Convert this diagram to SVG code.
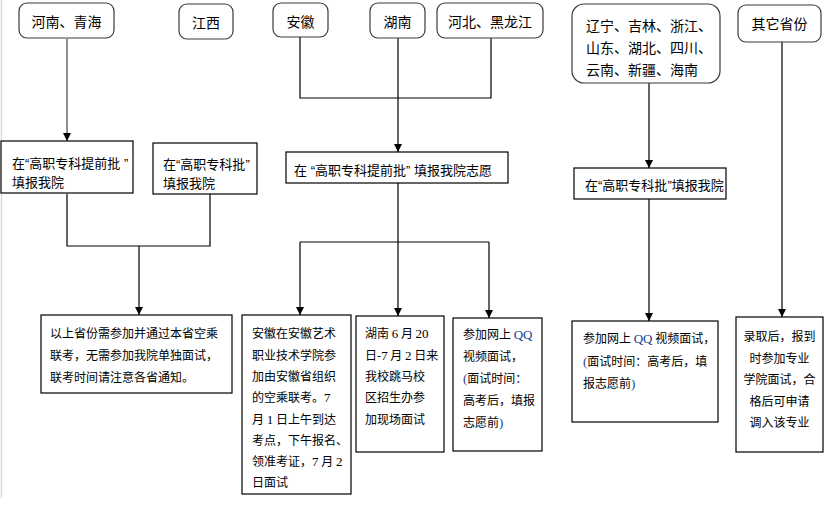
<svg xmlns="http://www.w3.org/2000/svg" width="828" height="505" viewBox="0 0 828 505">
<style>
  text { font-family: "Noto Sans CJK SC", "Noto Sans", sans-serif; fill: #000; }
  .top { font-size: 14px; }
  .box { font-size: 13px; }
  .sm { font-size: 12px; }
  .p { font-family: "Liberation Sans", sans-serif; }
  .n { font-family: "Liberation Serif", serif; font-size: 13px; }
  .q { font-family: "Liberation Serif", serif; font-size: 13px; fill: #1a3d8f; }
  .rnode { fill: #fff; stroke: #3a3a3a; stroke-width: 1.2; }
  .snode { fill: #fff; stroke: #000; stroke-width: 1.2; }
  .c { fill: none; stroke: #000; stroke-width: 1.2; }
  .cg { fill: none; stroke: #6a6a6a; stroke-width: 1.5; }
  .arr { marker-end: url(#ah); }
</style>
<defs>
  <marker id="ah" viewBox="0 0 8 8" refX="8" refY="4" markerWidth="8" markerHeight="8" markerUnits="userSpaceOnUse" orient="auto">
    <path d="M0,0 L8,4 L0,8 z" fill="#000"/>
  </marker>
</defs>
<rect width="828" height="505" fill="#fff"/>
<line x1="1.5" y1="0" x2="1.5" y2="498" stroke="#dcdcdc" stroke-width="1.5"/>

<g id="connectors">
  <path class="cg arr" d="M67,39 V141"/>
  <path class="c" d="M67,194 V246 H210 V194"/>
  <path class="c arr" d="M139,246 V315"/>
  <path class="c" d="M300,37 V98 H491 V38"/>
  <path class="c arr" d="M398,38 V152"/>
  <path class="c" d="M398,183 V242"/>
  <path class="c" d="M300,242 H489"/>
  <path class="c arr" d="M300,242 V315"/>
  <path class="c arr" d="M398,242 V316"/>
  <path class="c arr" d="M489,242 V318"/>
  <path class="c arr" d="M649,83 V168"/>
  <path class="c arr" d="M649,199 V321"/>
  <path class="c arr" d="M782,42 V317"/>
</g>

<g id="n-henan">
  <rect class="rnode" x="19" y="3" width="95" height="35" rx="8"/>
  <text class="top" x="66.5" y="27" text-anchor="middle">河南、青海</text>
</g>
<g id="n-jiangxi">
  <rect class="rnode" x="179" y="4" width="54" height="35" rx="8"/>
  <text class="top" x="206" y="28" text-anchor="middle">江西</text>
</g>
<g id="n-anhui">
  <rect class="rnode" x="273" y="3" width="55" height="34" rx="8"/>
  <text class="top" x="300.5" y="27" text-anchor="middle">安徽</text>
</g>
<g id="n-hunan">
  <rect class="rnode" x="370" y="3" width="55" height="35" rx="8"/>
  <text class="top" x="397.5" y="27" text-anchor="middle">湖南</text>
</g>
<g id="n-hebei">
  <rect class="rnode" x="437" y="3" width="106" height="35" rx="8"/>
  <text class="top" x="490" y="27" text-anchor="middle">河北、黑龙江</text>
</g>
<g id="n-liaoning">
  <rect class="rnode" x="572" y="4" width="148" height="79" rx="12"/>
  <text class="top" x="586" y="31">辽宁、吉林、浙江、</text>
  <text class="top" x="586" y="53">山东、湖北、四川、</text>
  <text class="top" x="586" y="75">云南、新疆、海南</text>
</g>
<g id="n-other">
  <rect class="rnode" x="738" y="5" width="83" height="37" rx="8"/>
  <text class="top" x="779.5" y="29" text-anchor="middle">其它省份</text>
</g>

<g id="n-tiqian1">
  <rect class="snode" x="1" y="141" width="132" height="52"/>
  <text class="box" x="12" y="168">在<tspan class="p">“</tspan>高职专科提前批<tspan class="p"> ”</tspan></text>
  <text class="box" x="12" y="187">填报我院</text>
</g>
<g id="n-zhuanke1">
  <rect class="snode" x="153" y="143" width="104" height="51"/>
  <text class="box" x="163" y="169">在<tspan class="p">“</tspan>高职专科批<tspan class="p">”</tspan></text>
  <text class="box" x="163" y="188">填报我院</text>
</g>
<g id="n-tiqian2">
  <rect class="snode" x="286" y="152" width="222" height="31"/>
  <text class="box" x="294" y="175">在<tspan class="p"> “</tspan>高职专科提前批<tspan class="p">” </tspan>填报我院志愿</text>
</g>
<g id="n-zhuanke2">
  <rect class="snode" x="574" y="168" width="152" height="31"/>
  <text class="box" x="585" y="190">在<tspan class="p">“</tspan>高职专科批<tspan class="p">”</tspan>填报我院</text>
</g>

<g id="n-lianka">
  <rect class="snode" x="41" y="315" width="191" height="78"/>
  <text class="sm" x="50" y="338">以上省份需参加并通过本省空乘</text>
  <text class="sm" x="50" y="360">联考，无需参加我院单独面试，</text>
  <text class="sm" x="50" y="382">联考时间请注意各省通知。</text>
</g>
<g id="n-anhui-detail">
  <rect class="snode" x="242" y="315" width="109" height="179"/>
  <text class="sm" x="252" y="338">安徽在安徽艺术</text>
  <text class="sm" x="252" y="359.5">职业技术学院参</text>
  <text class="sm" x="252" y="381">加由安徽省组织</text>
  <text class="sm" x="252" y="402">的空乘联考。<tspan class="n">7</tspan></text>
  <text class="sm" x="252" y="423.5">月 <tspan class="n">1</tspan> 日上午到达</text>
  <text class="sm" x="252" y="445">考点，下午报名、</text>
  <text class="sm" x="252" y="466">领准考证，<tspan class="n">7</tspan> 月 <tspan class="n">2</tspan></text>
  <text class="sm" x="252" y="487">日面试</text>
</g>
<g id="n-hunan-detail">
  <rect class="snode" x="356" y="316" width="88" height="136"/>
  <text class="sm" x="365" y="338">湖南 <tspan class="n">6</tspan> 月 <tspan class="n">20</tspan></text>
  <text class="sm" x="365" y="359.5">日-<tspan class="n">7</tspan> 月 <tspan class="n">2</tspan> 日来</text>
  <text class="sm" x="365" y="381">我校跳马校</text>
  <text class="sm" x="365" y="402">区招生办参</text>
  <text class="sm" x="365" y="423.5">加现场面试</text>
</g>
<g id="n-qq1">
  <rect class="snode" x="453" y="318" width="89" height="133"/>
  <text class="sm" x="463" y="339">参加网上 <tspan class="q">QQ</tspan></text>
  <text class="sm" x="463" y="361">视频面试，</text>
  <text class="sm" x="463" y="383"><tspan class="q">(</tspan>面试时间：</text>
  <text class="sm" x="463" y="405">高考后，填报</text>
  <text class="sm" x="463" y="427">志愿前<tspan class="q">)</tspan></text>
</g>
<g id="n-qq2">
  <rect class="snode" x="572" y="321" width="146" height="101"/>
  <text class="sm" x="583" y="343">参加网上 <tspan class="q">QQ</tspan> 视频面试，</text>
  <text class="sm" x="583" y="365.5"><tspan class="q">(</tspan>面试时间：高考后，填</text>
  <text class="sm" x="583" y="388">报志愿前<tspan class="q">)</tspan></text>
</g>
<g id="n-other-detail">
  <rect class="snode" x="736" y="317" width="87" height="135"/>
  <text class="sm" x="779.5" y="341" text-anchor="middle">录取后，报到</text>
  <text class="sm" x="779.5" y="362.5" text-anchor="middle">时参加专业</text>
  <text class="sm" x="779.5" y="384" text-anchor="middle">学院面试，合</text>
  <text class="sm" x="779.5" y="405.5" text-anchor="middle">格后可申请</text>
  <text class="sm" x="779.5" y="427" text-anchor="middle">调入该专业</text>
</g>
</svg>
